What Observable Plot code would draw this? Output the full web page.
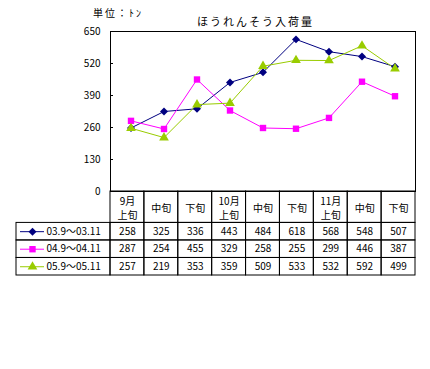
<!DOCTYPE html>
<html><head><meta charset="utf-8">
<script src="https://cdn.jsdelivr.net/npm/d3@7"></script>
<script src="https://cdn.jsdelivr.net/npm/@observablehq/plot@0.6"></script>
<style>
body{margin:0;background:#fff;}
#wrap{position:relative;width:430px;height:369px;font-family:"Noto Sans CJK JP",sans-serif;}
#wrap svg{position:absolute;left:0;background:transparent;overflow:visible;}
.t{position:absolute;font-size:11px;color:#000;white-space:nowrap;line-height:1;}
</style></head>
<body><div id="wrap"></div>
<script>
const categories = ["9月\n上旬","中旬","下旬","10月\n上旬","中旬","下旬","11月\n上旬","中旬","下旬"];
const seriesNames = ["03.9～03.11","04.9～04.11","05.9～05.11"];
const series03 = [258,325,336,443,484,618,568,548,507];
const series04 = [287,254,455,329,258,255,299,446,387];
const series05 = [257,219,353,359,509,533,532,592,499];
const yTicks = [0,130,260,390,520,650];
const title = "ほうれんそう入荷量";
const unit = "単位：ﾄﾝ";

const colors = ["#000080","#FF00FF","#99CC00"];
const symbols = ["diamond2","square","triangle"];
const allSeries = [series03, series04, series05];
const points = allSeries.flatMap((vals, s) => vals.map((v, i) => ({i, v, name: seriesNames[s], s})));
const colorScale = {domain: seriesNames, range: colors};
const symbolScale = {domain: seriesNames, range: symbols};
const font = '"Noto Sans CJK JP", sans-serif';

const wrap = document.getElementById("wrap");

const chart = Plot.plot({
  width: 430, height: 200,
  marginTop: 31, marginBottom: 9, marginLeft: 110, marginRight: 15,
  style: {fontFamily: font, fontSize: "10px", background: "transparent", color: "#000"},
  x: {type: "band", domain: d3.range(categories.length), padding: 0, axis: null},
  y: {domain: [0, 650], axis: null},
  color: colorScale, symbol: symbolScale,
  marks: [
    Plot.frame({stroke: "#000"}),
    Plot.axisY({ticks: yTicks, tickSize: -3, text: null, stroke: "#000", label: null}),
    Plot.axisY({ticks: yTicks, tickSize: 0, tickPadding: 10, fill: "#000", fontSize: 10, label: null}),
    Plot.line(points, {x: "i", y: "v", z: "name", stroke: "name", strokeWidth: 1}),
    Plot.dot(points, {x: "i", y: "v", fill: "name", symbol: "name", r: 3.6, stroke: null})
  ]
});
chart.style.top = "0px";
wrap.appendChild(chart);

// table
const colW = (415 - 110) / categories.length;
const L = (110 - 16) / colW;
const u = px => px / colW;
const H = 31 / 17.3;
const headerCells = categories.map((c, i) => ({i, c}));
const dataCells = allSeries.flatMap((vals, s) => vals.map((v, i) => ({i, v, s})));
const legendRows = seriesNames.map((name, s) => ({name, s}));

const table = Plot.plot({
  width: 430, height: 85,
  marginTop: 0, marginBottom: 1, marginLeft: 16, marginRight: 15,
  style: {fontFamily: font, fontSize: "10px", background: "transparent", color: "#000"},
  x: {domain: [-L, categories.length], axis: null},
  y: {domain: [0, H + 3], reverse: true, axis: null},
  color: colorScale, symbol: symbolScale,
  marks: [
    Plot.rect(headerCells, {x1: d => d.i, x2: d => d.i + 1, y1: 0, y2: H, stroke: "#000", fill: "none"}),
    Plot.rect(dataCells, {x1: d => d.i, x2: d => d.i + 1, y1: d => H + d.s, y2: d => H + d.s + 1, stroke: "#000", fill: "none"}),
    Plot.rect(legendRows, {x1: -L, x2: 0, y1: d => H + d.s, y2: d => H + d.s + 1, stroke: "#000", fill: "none"}),
    Plot.text(headerCells, {x: d => d.i + 0.5, y: H / 2, text: "c", fill: "#000", fontSize: 10, lineHeight: 1.4}),
    Plot.text(dataCells, {x: d => d.i + 0.5, y: d => H + d.s + 0.5, text: d => String(d.v), fill: "#000", fontSize: 10}),
    Plot.ruleY(legendRows, {y: d => H + d.s + 0.5, x1: -L + u(4), x2: -L + u(28), stroke: "name", strokeWidth: 1}),
    Plot.dot(legendRows, {x: -L + u(16), y: d => H + d.s + 0.5, fill: "name", symbol: "name", r: 3.6}),
    Plot.text(legendRows, {x: -L + u(30), y: d => H + d.s + 0.5, text: "name", textAnchor: "start", fill: "#000", fontSize: 10})
  ]
});
table.style.top = "191px";
wrap.appendChild(table);

function addText(txt, left, top, extra) {
  const d = document.createElement("div");
  d.className = "t";
  d.textContent = txt;
  d.style.left = left + "px";
  d.style.top = top + "px";
  Object.assign(d.style, extra || {});
  wrap.appendChild(d);
}
addText(unit, 93, 8, {letterSpacing: "2px", fontSize: "10px"});
addText(title, 197, 16, {letterSpacing: "2px"});
</script></body></html>
